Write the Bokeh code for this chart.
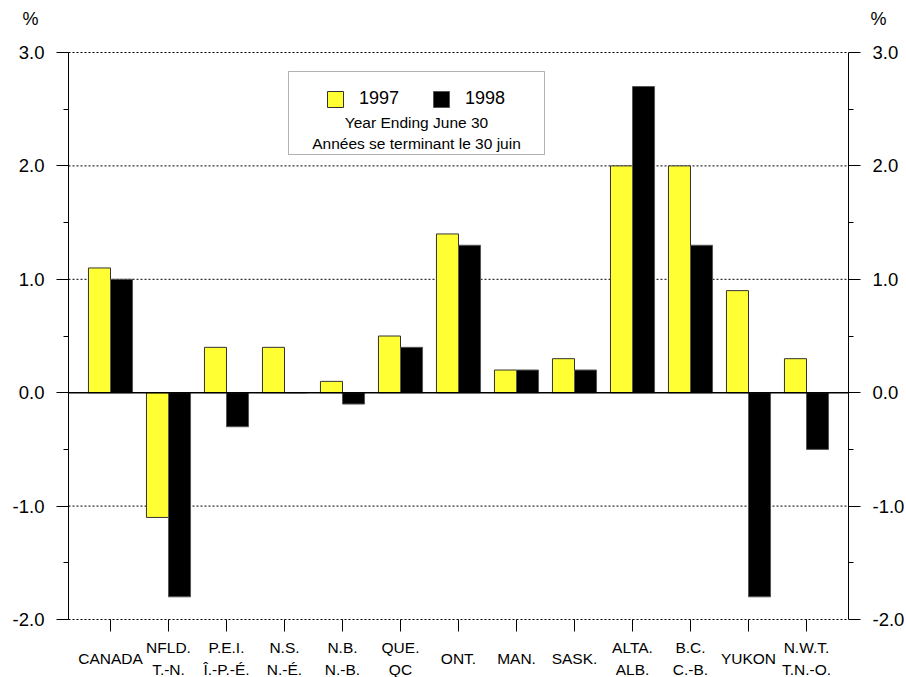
from bokeh.plotting import figure
from bokeh.models import (Range1d, LinearAxis, FixedTicker, Label, BoxAnnotation,
                          ColumnDataSource)
from bokeh.core.properties import value
from bokeh.transform import dodge
from bokeh.embed import file_html
from bokeh.resources import INLINE

categories = ["CANADA", "NFLD.\nT.-N.", "P.E.I.\nÎ.-P.-É.", "N.S.\nN.-É.", "N.B.\nN.-B.",
              "QUE.\nQC", "ONT.", "MAN.", "SASK.", "ALTA.\nALB.", "B.C.\nC.-B.",
              "YUKON", "N.W.T.\nT.N.-O."]
v1997 = [1.1, -1.1, 0.4, 0.4, 0.1, 0.5, 1.4, 0.2, 0.3, 2.0, 2.0, 0.9, 0.3]
v1998 = [1.0, -1.8, -0.3, 0.0, -0.1, 0.4, 1.3, 0.2, 0.2, 2.7, 1.3, -1.8, -0.5]
y_ticks = [-2.0, -1.0, 0.0, 1.0, 2.0, 3.0]
y_minor = [-1.5, -0.5, 0.5, 1.5, 2.5]
legend_note = ["Year Ending June 30", "Années se terminant le 30 juin"]

FONT = "Liberation Sans"
W, H = 906, 677
# plot box (pixels inside the canvas)
PL, PR, PT, PB = 68, 848, 52, 619
STEP = 58.0                        # px per category
UNIT = (PB - PT) / 5.0             # px per percentage point
FIRST = 110                        # px of first category centre

ux = 1.0 / STEP
uy = 1.0 / UNIT
xl = (PL - FIRST) * ux             # left edge of plot box, category units
xrt = (PR - FIRST) * ux            # right edge
idx = list(range(len(categories)))

src = ColumnDataSource(dict(i=idx, cat=categories, a=v1997, b=v1998))

p = figure(x_range=Range1d(-FIRST * ux, (W - FIRST) * ux),
           y_range=Range1d(-2 - (H - PB) * uy, 3 + PT * uy),
           width=W, height=H, title=None, output_backend="svg", toolbar_location=None,
           min_border=0, x_axis_type=None, y_axis_type=None)
p.outline_line_color = None
p.background_fill_color = "white"
p.grid.visible = False

# grid lines (dotted) and solid zero line, limited to the plot box
grid_y = [t for t in y_ticks if t != 0]
p.segment(x0=xl, x1=xrt, y0=grid_y, y1=grid_y, line_color="black", line_width=1,
          line_dash="2 2")

p.vbar(x=dodge("i", -0.19), top="a", bottom=0, width=0.38, source=src,
       fill_color="#FFFF33", line_color="#333333", line_width=1, legend_label="1997")
p.vbar(x=dodge("i", 0.19), top="b", bottom=0, width=0.38, source=src,
       fill_color="black", line_color="#555555", line_width=1, legend_label="1998")

p.segment(x0=xl, x1=xrt, y0=[0.0], y1=[0.0], line_color="black", line_width=1.6)

# y axes at the edges of the plot box
for side, loc in (("left", xl), ("right", xrt)):
    ax = LinearAxis(fixed_location=loc, bounds=(-2, 3))
    ax.ticker = FixedTicker(ticks=y_ticks, minor_ticks=y_minor)
    ax.major_label_overrides = {t: f"{t:.1f}" for t in y_ticks}
    ax.major_tick_out = 12
    ax.major_tick_in = 0
    ax.minor_tick_out = 5
    ax.minor_tick_in = 0
    ax.major_label_standoff = 12
    ax.major_label_text_font = FONT
    ax.major_label_text_font_size = "18.5px"
    ax.major_label_text_color = "black"
    ax.axis_line_color = "black"
    ax.major_tick_line_color = "black"
    ax.minor_tick_line_color = "black"
    p.add_layout(ax, side)

# x axis: tick marks at the category centres
xa = LinearAxis(fixed_location=-2, bounds=(xl, xrt))
xa.ticker = FixedTicker(ticks=idx, minor_ticks=[])
xa.axis_line_color = None
xa.major_tick_out = 12
xa.major_tick_in = 0
xa.minor_tick_out = 0
xa.major_tick_line_color = "black"
xa.major_label_text_color = None
p.add_layout(xa, "below")

# category labels (vertically centred below the ticks)
p.text(x="i", y=-2 - 39 * uy, text="cat", source=src, text_font=value(FONT),
       text_font_size="15.5px", text_align="center", text_baseline="middle",
       text_line_height=1.25, text_color="black")

# unit labels
for xx in (xl - 38 * ux, xrt + 30 * ux):
    p.add_layout(Label(x=xx, y=3 + 34 * uy, text="%", text_font=FONT, text_font_size="18px",
                       text_align="center", text_baseline="middle", text_color="black"))

# legend frame and note
p.add_layout(BoxAnnotation(left=xl + 220 * ux, right=xl + 476 * ux,
                           top=3 - 19 * uy, bottom=3 - 102 * uy,
                           fill_alpha=0, line_color="black", line_width=1))
for k, t in enumerate(legend_note):
    p.add_layout(Label(x=xl + 348 * ux, y=3 - (70 + 21 * k) * uy, text=t, text_font=FONT,
                       text_font_size="15.5px", text_align="center", text_baseline="middle",
                       text_color="black"))

lg = p.legend[0]
lg.orientation = "horizontal"
lg.location = (PL + 257, (H - PB) + (PB - PT) - 57)
lg.padding = 0
lg.margin = 0
lg.spacing = 32
lg.label_standoff = 14
lg.glyph_width = 20
lg.glyph_height = 20
lg.label_text_font = FONT
lg.label_text_font_size = "18px"
lg.label_text_color = "black"
lg.label_height = 20
lg.border_line_color = None
lg.background_fill_alpha = 0

open("out.html", "w").write(file_html(p, INLINE))
